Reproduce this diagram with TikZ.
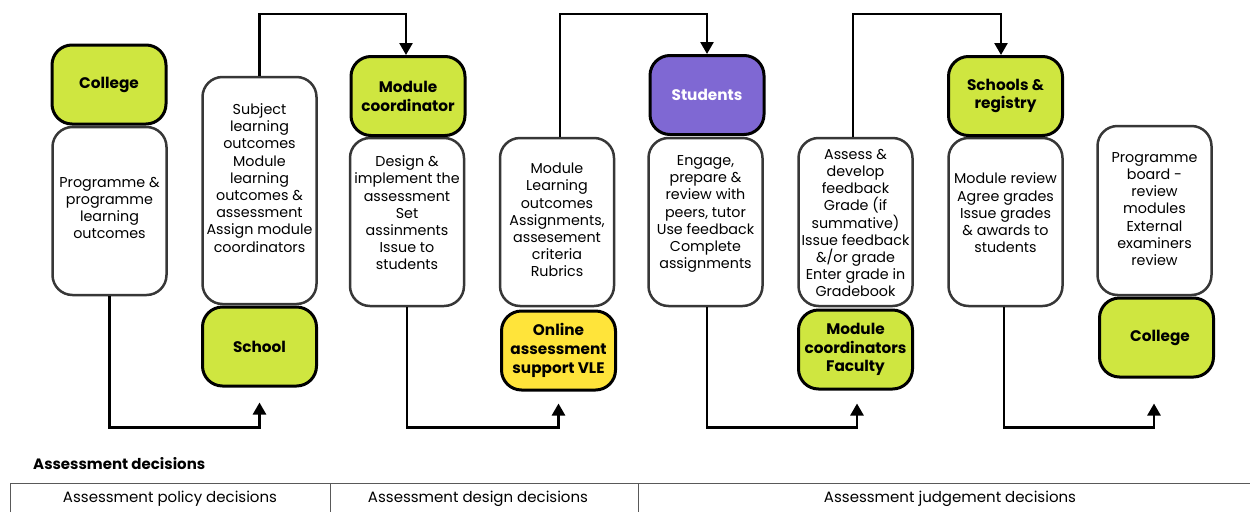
\documentclass[tikz,border=0pt]{standalone}
\usepackage{fontspec}
\setmainfont{Poppins}
\usetikzlibrary{arrows.meta}
\definecolor{lime}{RGB}{207,230,64}
\definecolor{violet}{RGB}{127,104,211}
\definecolor{yel}{RGB}{255,228,58}
\definecolor{edge}{RGB}{55,55,55}
\begin{document}
\begin{tikzpicture}[x=1pt,y=-1pt,
  actor/.style={draw=black,line width=3pt,rounded corners=20pt,minimum width=114pt,minimum height=79pt,inner sep=0pt,align=center,font=\fontsize{15.3}{18.8}\selectfont\bfseries},
  task/.style={draw=edge,line width=2.5pt,rounded corners=20pt,minimum width=114pt,inner sep=0pt},
  tasktext/.style={align=center,inner sep=0pt,font=\fontsize{14.3}{17.2}\selectfont},
  conn/.style={line width=2.5pt,-{Triangle[width=13pt,length=12pt]}},
  tabline/.style={draw=black!65,line width=0.9pt},
  tabtext/.style={font=\fontsize{15}{17}\selectfont,inner sep=0pt}]
\useasboundingbox (0,0) rectangle (1250,512);
% column 1
\node[task,minimum height=168pt] (w1) at (109.5,211) {};
\node[actor,fill=lime] (g1) at (109,84.5) {College};
\node[tasktext] (t1) at (109.5,208) {Programme \&\\programme\\learning\\outcomes};
% column 2
\node[task,minimum height=227pt] (w2) at (259.5,190.5) {};
\node[actor,fill=lime] (g2) at (259.5,346.5) {School};
\node[tasktext] (t2) at (259.5,178) {Subject\\learning\\outcomes\\Module\\learning\\outcomes \&\\assessment\\Assign module\\coordinators};
% column 3
\node[task,minimum height=168pt] (w3) at (407,222) {};
\node[actor,fill=lime] (g3) at (408,96) {Module\\coordinator};
\node[tasktext] (t3) at (407,213) {Design \&\\implement the\\assessment\\Set\\assinments\\Issue to\\students};
% column 4
\node[task,minimum height=168pt] (w4) at (557,222) {};
\node[actor,fill=yel] (g4) at (558.5,350.5) {Online\\assessment\\support VLE};
\node[tasktext] (t4) at (557,220) {Module\\Learning\\outcomes\\Assignments,\\assesement\\criteria\\Rubrics};
% column 5
\node[task,minimum height=168pt] (w5) at (705.5,222) {};
\node[actor,fill=violet,text=white] (g5) at (707,95) {Students};
\node[tasktext] (t5) at (705.5,214) {Engage,\\prepare \&\\review with\\peers, tutor\\Use feedback\\Complete\\assignments};
% column 6
\node[task,minimum height=168pt] (w6) at (855.5,222) {};
\node[actor,fill=lime] (g6) at (855.5,349.5) {Module\\coordinators\\Faculty};
\node[tasktext] (t6) at (855.5,223) {Assess \&\\develop\\feedback\\Grade (if\\summative)\\Issue feedback\\\&/or grade\\Enter grade in\\Gradebook};
% column 7
\node[task,minimum height=168pt] (w7) at (1005.5,222) {};
\node[actor,fill=lime] (g7) at (1005.5,96) {Schools \&\\registry};
\node[tasktext] (t7) at (1005.5,213) {Module review\\Agree grades\\Issue grades\\\& awards to\\students};
% column 8
\node[task,minimum height=169pt] (w8) at (1154.5,210.5) {};
\node[actor,fill=lime] (g8) at (1156.5,337.5) {\hspace*{7pt}College};
\node[tasktext] (t8) at (1154.5,209) {Programme\\board -\\review\\modules\\External\\examiners\\review};
% connectors
\draw[conn,shorten >=15pt] (w1.south) -- ++(0,131) -| (g2.south);
\draw[conn] (w2.north) -- ++(0,-62) -| ([xshift=-2pt]g3.north);
\draw[conn,shorten >=12pt] (w3.south) -- ++(0,120) -| (g4.south);
\draw[conn] ([xshift=3pt]w4.north) -- ++(0,-123) -| (g5.north);
\draw[conn,shorten >=13pt] ([xshift=1.5pt]w5.south) -- ++(0,120) -| ([xshift=1.5pt]g6.south);
\draw[conn] ([xshift=-2.5pt]w6.north) -- ++(0,-123) -| ([xshift=-4.5pt]g7.north);
\draw[conn,shorten >=25pt] ([xshift=-1.5pt]w7.south) -- ++(0,120) -| ([xshift=-2.5pt]g8.south);
% bottom table
\node[anchor=west,font=\fontsize{15}{17}\selectfont\bfseries,inner sep=0pt] (dec) at (33,464) {Assessment decisions};
\coordinate (tl) at (10,483);
\coordinate (tr) at (1250,483);
\coordinate (bl) at (10,512);
\coordinate (d1t) at (330,483);
\coordinate (d1b) at (330,512);
\coordinate (d2t) at (638,483);
\coordinate (d2b) at (638,512);
\draw[tabline] (bl) -- (tl) -- (tr);
\draw[tabline] (d1t) -- (d1b);
\draw[tabline] (d2t) -- (d2b);
\node[tabtext] (c1) at (170,499) {Assessment policy decisions};
\node[tabtext] (c2) at (478,499) {Assessment design decisions};
\node[tabtext] (c3) at (950,499) {Assessment judgement decisions};
\end{tikzpicture}
\end{document}
